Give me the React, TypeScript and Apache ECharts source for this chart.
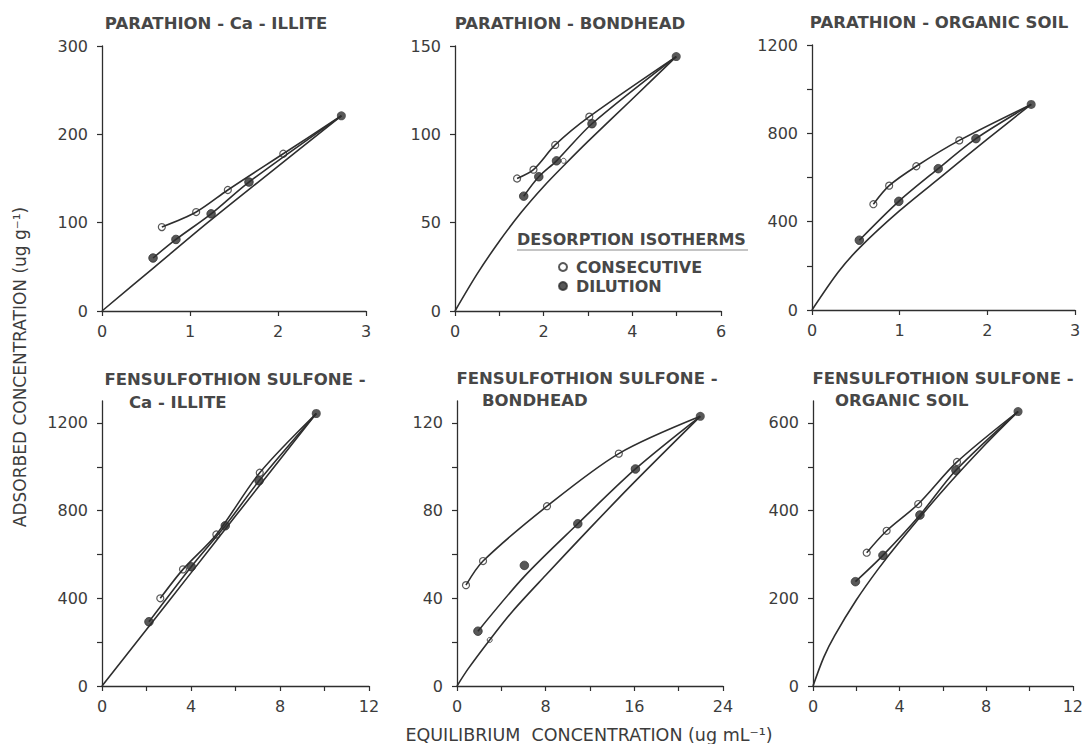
import React, { useEffect, useRef } from 'react';
import * as echarts from 'echarts';

// ---------- Data ----------
// Panel 1: PARATHION - Ca - ILLITE
const p1ConsX = [0.68, 1.07, 1.43, 2.06];
const p1ConsY = [95, 112, 137, 178];
const p1DilX = [0.58, 0.84, 1.24, 1.67];
const p1DilY = [60, 81, 110, 146];
const p1End = [2.72, 221];
const p1AdsX = [0, 0.6, 1.2, 1.8, 2.72];
const p1AdsY = [0, 50, 100, 148, 221];

// Panel 2: PARATHION - BONDHEAD
const p2ConsX = [1.4, 1.77, 2.26, 3.03];
const p2ConsY = [75, 80, 94, 110];
const p2DilX = [1.55, 1.89, 2.29, 3.09];
const p2DilY = [65, 76, 85, 106];
const p2End = [4.99, 144];
const p2AdsX = [0, 0.5, 1, 1.5, 2, 2.5, 3, 4, 4.99];
const p2AdsY = [0, 21, 39.5, 56, 70.5, 83.5, 96, 120, 144];
const p2AdsPt = [2.45, 85];

// Panel 3: PARATHION - ORGANIC SOIL
const p3ConsX = [0.7, 0.88, 1.19, 1.68];
const p3ConsY = [479, 563, 651, 768];
const p3DilX = [0.54, 0.99, 1.44, 1.87];
const p3DilY = [316, 492, 640, 776];
const p3End = [2.5, 931];
const p3AdsX = [0, 0.3, 0.55, 1, 1.5, 2, 2.5];
const p3AdsY = [0, 172, 285, 450, 612, 774, 931];

// Panel 4: FENSULFOTHION SULFONE - Ca - ILLITE
const p4ConsX = [2.62, 3.64, 5.14, 7.09];
const p4ConsY = [400, 532, 691, 973];
const p4DilX = [2.11, 4.01, 5.54, 7.06];
const p4DilY = [293, 544, 731, 936];
const p4End = [9.63, 1243];
const p4AdsX = [0, 2, 4, 6, 8, 9.63];
const p4AdsY = [0, 258, 516, 775, 1033, 1243];

// Panel 5: FENSULFOTHION SULFONE - BONDHEAD
const p5ConsX = [0.81, 2.35, 8.12, 14.6];
const p5ConsY = [46, 57, 82, 106];
const p5DilX = [1.89, 6.08, 10.9, 16.1];
const p5DilY = [25, 55, 74, 99];
const p5DilLineX = [1.89, 6.08, 10.9, 16.1];
const p5DilLineY = [25, 50, 74, 99];
const p5End = [21.95, 123];
const p5AdsX = [0, 1, 2.95, 5, 8, 12, 16, 21.95];
const p5AdsY = [0, 7.8, 21, 34, 50.5, 72, 93, 123];
const p5AdsPt = [2.95, 21];

// Panel 6: FENSULFOTHION SULFONE - ORGANIC SOIL
const p6ConsX = [2.48, 3.4, 4.86, 6.65];
const p6ConsY = [304, 354, 415, 511];
const p6DilX = [1.96, 3.23, 4.94, 6.6];
const p6DilY = [238, 298, 390, 492];
const p6End = [9.47, 626];
const p6AdsX = [0, 0.5, 1, 2, 3, 4, 6, 8, 9.47];
const p6AdsY = [0, 66, 115, 196, 266, 329, 446, 553, 626];

// Axis ticks / labels
const p1XLabels = [0, 1, 2, 3];
const p1YLabels = [0, 100, 200, 300];
const p2XLabels = [0, 2, 4, 6];
const p2XTicks = [0, 1, 2, 3, 4, 5, 6];
const p2YLabels = [0, 50, 100, 150];
const p3XLabels = [0, 1, 2, 3];
const p3YLabels = [0, 400, 800, 1200];
const p3YTicks = [0, 200, 400, 600, 800, 1000, 1200];
const p4XLabels = [0, 4, 8, 12];
const p4XTicks = [0, 2, 4, 6, 8, 10, 12];
const p4YLabels = [0, 400, 800, 1200];
const p4YTicks = [0, 200, 400, 600, 800, 1000, 1200];
const p5XLabels = [0, 8, 16, 24];
const p5XTicks = [0, 4, 8, 12, 16, 20, 24];
const p5YLabels = [0, 40, 80, 120];
const p5YTicks = [0, 20, 40, 60, 80, 100, 120];
const p6XLabels = [0, 4, 8, 12];
const p6XTicks = [0, 2, 4, 6, 8, 10, 12];
const p6YLabels = [0, 200, 400, 600];
const p6YTicks = [0, 100, 200, 300, 400, 500, 600];

const legendNames = ['CONSECUTIVE', 'DILUTION'];
const legendHeading = 'DESORPTION ISOTHERMS';
const yTitle = 'ADSORBED CONCENTRATION (ug g\u207B\u00B9)';
const xTitle = 'EQUILIBRIUM  CONCENTRATION (ug mL\u207B\u00B9)';

const pairs = (xs: number[], ys: number[]) => xs.map((x, i) => [x, ys[i]]);

const FONT = "'DejaVu Sans', 'Liberation Sans', Arial, sans-serif";
const INK = '#2e2e2e';
const TXT = '#3c3c3c';
const TITLE = '#474747';

type Panel = {
  titles: { text: string; x: number; y: number; align: string }[];
  grid: { left: number; top: number; width: number; height: number };
  xMax: number; xInterval: number; xLabels: number[]; xTicks: number[];
  yMax: number; yInterval: number; yLabels: number[]; yTicks: number[];
  cons: number[][]; dil: number[][]; consLine: number[][]; dilLine: number[][];
  end: number[]; ads: number[][]; adsPts: number[][];
};

const panels: Panel[] = [
  {
    titles: [{ text: 'PARATHION - Ca - ILLITE', x: 216, y: 23, align: 'center' }],
    grid: { left: 102, top: 46, width: 264, height: 265 },
    xMax: 3, xInterval: 1, xLabels: p1XLabels, xTicks: p1XLabels,
    yMax: 300, yInterval: 100, yLabels: p1YLabels, yTicks: p1YLabels,
    cons: pairs(p1ConsX, p1ConsY), dil: pairs(p1DilX, p1DilY),
    consLine: pairs([...p1ConsX, p1End[0]], [...p1ConsY, p1End[1]]),
    dilLine: pairs([...p1DilX, p1End[0]], [...p1DilY, p1End[1]]),
    end: p1End, ads: pairs(p1AdsX, p1AdsY), adsPts: [],
  },
  {
    titles: [{ text: 'PARATHION - BONDHEAD', x: 570, y: 23, align: 'center' }],
    grid: { left: 455, top: 46, width: 266, height: 265 },
    xMax: 6, xInterval: 2, xLabels: p2XLabels, xTicks: p2XTicks,
    yMax: 150, yInterval: 50, yLabels: p2YLabels, yTicks: p2YLabels,
    cons: pairs(p2ConsX, p2ConsY), dil: pairs(p2DilX, p2DilY),
    consLine: pairs([...p2ConsX, p2End[0]], [...p2ConsY, p2End[1]]),
    dilLine: pairs([...p2DilX, p2End[0]], [...p2DilY, p2End[1]]),
    end: p2End, ads: pairs(p2AdsX, p2AdsY), adsPts: [p2AdsPt],
  },
  {
    titles: [{ text: 'PARATHION - ORGANIC SOIL', x: 939, y: 22, align: 'center' }],
    grid: { left: 812, top: 45, width: 263, height: 265 },
    xMax: 3, xInterval: 1, xLabels: p3XLabels, xTicks: p3XLabels,
    yMax: 1200, yInterval: 400, yLabels: p3YLabels, yTicks: p3YTicks,
    cons: pairs(p3ConsX, p3ConsY), dil: pairs(p3DilX, p3DilY),
    consLine: pairs([...p3ConsX, p3End[0]], [...p3ConsY, p3End[1]]),
    dilLine: pairs([...p3DilX, p3End[0]], [...p3DilY, p3End[1]]),
    end: p3End, ads: pairs(p3AdsX, p3AdsY), adsPts: [],
  },
  {
    titles: [
      { text: 'FENSULFOTHION SULFONE -', x: 235, y: 379, align: 'center' },
      { text: 'Ca - ILLITE', x: 129, y: 402, align: 'left' },
    ],
    grid: { left: 102, top: 401, width: 267, height: 285 },
    xMax: 12, xInterval: 4, xLabels: p4XLabels, xTicks: p4XTicks,
    yMax: 1300, yInterval: 400, yLabels: p4YLabels, yTicks: p4YTicks,
    cons: pairs(p4ConsX, p4ConsY), dil: pairs(p4DilX, p4DilY),
    consLine: pairs([...p4ConsX, p4End[0]], [...p4ConsY, p4End[1]]),
    dilLine: pairs([...p4DilX, p4End[0]], [...p4DilY, p4End[1]]),
    end: p4End, ads: pairs(p4AdsX, p4AdsY), adsPts: [],
  },
  {
    titles: [
      { text: 'FENSULFOTHION SULFONE -', x: 587, y: 378, align: 'center' },
      { text: 'BONDHEAD', x: 482, y: 400, align: 'left' },
    ],
    grid: { left: 457, top: 401, width: 266, height: 285 },
    xMax: 24, xInterval: 8, xLabels: p5XLabels, xTicks: p5XTicks,
    yMax: 130, yInterval: 40, yLabels: p5YLabels, yTicks: p5YTicks,
    cons: pairs(p5ConsX, p5ConsY), dil: pairs(p5DilX, p5DilY),
    consLine: pairs([...p5ConsX, p5End[0]], [...p5ConsY, p5End[1]]),
    dilLine: pairs([...p5DilLineX, p5End[0]], [...p5DilLineY, p5End[1]]),
    end: p5End, ads: pairs(p5AdsX, p5AdsY), adsPts: [p5AdsPt],
  },
  {
    titles: [
      { text: 'FENSULFOTHION SULFONE -', x: 943, y: 378, align: 'center' },
      { text: 'ORGANIC SOIL', x: 835, y: 400, align: 'left' },
    ],
    grid: { left: 813, top: 401, width: 265, height: 285 },
    xMax: 12, xInterval: 4, xLabels: p6XLabels, xTicks: p6XTicks,
    yMax: 650, yInterval: 200, yLabels: p6YLabels, yTicks: p6YTicks,
    cons: pairs(p6ConsX, p6ConsY), dil: pairs(p6DilX, p6DilY),
    consLine: pairs([...p6ConsX, p6End[0]], [...p6ConsY, p6End[1]]),
    dilLine: pairs([...p6DilX, p6End[0]], [...p6DilY, p6End[1]]),
    end: p6End, ads: pairs(p6AdsX, p6AdsY), adsPts: [],
  },
];

function buildOption() {
  const grid: any[] = [];
  const xAxis: any[] = [];
  const yAxis: any[] = [];
  const series: any[] = [];
  const graphic: any[] = [];

  const axisLine = { show: true, onZero: false, lineStyle: { color: INK, width: 1.3 } };
  const labelStyle = { color: TXT, fontSize: 16, fontFamily: FONT, formatter: (v: number) => String(v) };

  panels.forEach((p, i) => {
    grid.push({ ...p.grid, containLabel: false });
    xAxis.push({
      type: 'value', gridIndex: i, min: 0, max: p.xMax, interval: p.xInterval,
      axisLine, splitLine: { show: false },
      axisTick: { show: true, length: 5, lineStyle: { color: INK, width: 1.2 }, customValues: p.xTicks },
      axisLabel: { ...labelStyle, margin: 12, customValues: p.xLabels },
    });
    yAxis.push({
      type: 'value', gridIndex: i, min: 0, max: p.yMax, interval: p.yInterval,
      axisLine, splitLine: { show: false },
      axisTick: { show: true, length: 5, lineStyle: { color: INK, width: 1.2 }, customValues: p.yTicks },
      axisLabel: { ...labelStyle, margin: 14, customValues: p.yLabels },
    });

    const lineBase = {
      type: 'line', xAxisIndex: i, yAxisIndex: i, showSymbol: false, symbol: 'none',
      smooth: 0.3, clip: false, silent: true,
      lineStyle: { color: INK, width: 1.6 },
    };
    series.push({ ...lineBase, name: 'adsorption', data: p.ads });
    series.push({ ...lineBase, name: 'consecutive-line', data: p.consLine });
    series.push({ ...lineBase, name: 'dilution-line', data: p.dilLine });
    if (p.adsPts.length) {
      series.push({
        type: 'scatter', name: 'adsorption-point', xAxisIndex: i, yAxisIndex: i,
        data: p.adsPts, symbol: 'circle', symbolSize: 5, clip: false,
        itemStyle: { color: '#fff', borderColor: INK, borderWidth: 1 },
      });
    }
    series.push({
      type: 'scatter', name: 'CONSECUTIVE', xAxisIndex: i, yAxisIndex: i,
      data: p.cons, symbol: 'circle', symbolSize: 7, clip: false,
      itemStyle: { color: '#fff', borderColor: INK, borderWidth: 1.2 },
    });
    series.push({
      type: 'scatter', name: 'DILUTION', xAxisIndex: i, yAxisIndex: i,
      data: p.dil, symbol: 'circle', symbolSize: 8.5, clip: false,
      itemStyle: { color: INK, borderColor: INK, borderWidth: 1 },
    });
    series.push({
      type: 'scatter', name: 'adsorbed-start', xAxisIndex: i, yAxisIndex: i,
      data: [p.end], symbol: 'circle', symbolSize: 9, clip: false,
      itemStyle: { color: INK },
    });

    p.titles.forEach((t) => {
      graphic.push({
        type: 'text', x: t.x, y: t.y, silent: true,
        style: {
          text: t.text, fill: TITLE, font: `bold 16.5px ${FONT}`,
          textAlign: t.align, textVerticalAlign: 'middle',
        },
      });
    });
  });

  // legend heading + rule
  graphic.push({
    type: 'text', x: 517, y: 239, silent: true,
    style: { text: legendHeading, fill: TITLE, font: `bold 16px ${FONT}`, textAlign: 'left', textVerticalAlign: 'middle' },
  });
  graphic.push({
    type: 'line', silent: true,
    shape: { x1: 517, y1: 250, x2: 748, y2: 250 },
    style: { stroke: '#8a8a8a', lineWidth: 1 },
  });
  // axis titles
  graphic.push({
    type: 'text', x: 20, y: 367, rotation: Math.PI / 2, silent: true,
    style: { text: yTitle, fill: TXT, font: `17px ${FONT}`, textAlign: 'center', textVerticalAlign: 'middle' },
  });
  graphic.push({
    type: 'text', x: 589, y: 735, silent: true,
    style: { text: xTitle, fill: TXT, font: `17.5px ${FONT}`, textAlign: 'center', textVerticalAlign: 'middle' },
  });

  return {
    animation: false,
    backgroundColor: '#fff',
    grid, xAxis, yAxis, series, graphic,
    legend: {
      data: legendNames,
      orient: 'vertical', left: 558, top: 259, padding: 0,
      itemWidth: 8, itemHeight: 8, itemGap: 3,
      icon: 'circle', selectedMode: false,
      textStyle: { color: TITLE, fontSize: 16, fontWeight: 'bold', fontFamily: FONT, lineHeight: 16, padding: [0, 0, 0, 4] },
    },
  };
}

export default function App() {
  const ref = useRef<HTMLDivElement>(null);
  useEffect(() => {
    document.body.style.margin = '0';
    if (!ref.current) return;
    const chart = echarts.init(ref.current, undefined, { renderer: 'svg' });
    chart.setOption(buildOption() as any);
    return () => chart.dispose();
  }, []);
  return <div ref={ref} style={{ width: 1086, height: 744 }} />;
}
